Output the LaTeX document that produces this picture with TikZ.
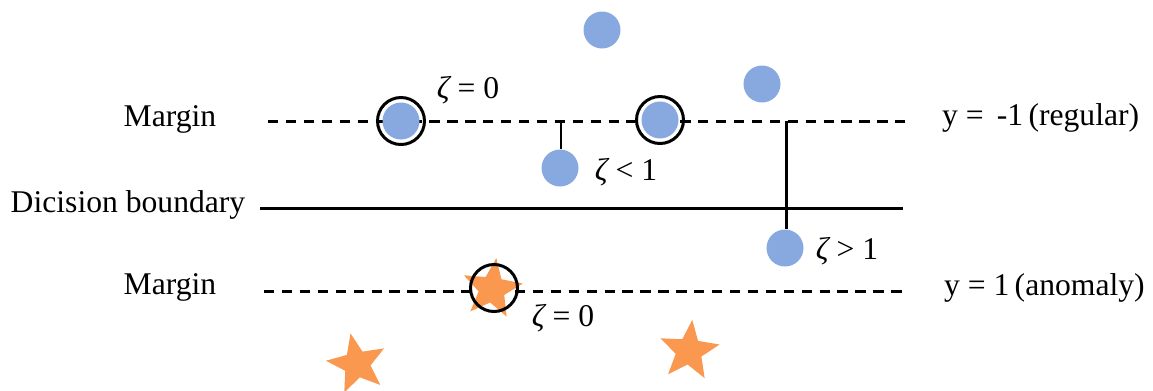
\documentclass[tikz,border=0pt]{standalone}
\usepackage{fontspec}
\setmainfont{Liberation Serif}
\usetikzlibrary{shapes.geometric}
\definecolor{regblue}{RGB}{135,169,224}
\definecolor{anostar}{RGB}{250,152,80}
\newcommand{\zt}{{\itshape ζ}}
\begin{document}
\begin{tikzpicture}[x=0.02cm, y=-0.02cm,
    every node/.style={font=\fontsize{18}{20}\selectfont},
    regular/.style={circle, fill=regblue, inner sep=0pt, minimum size=0.74cm},
    anomaly/.style={star, star points=5, star point ratio=2.3, fill=anostar, inner sep=0pt, minimum size=1.25cm},
    support/.style={circle, draw=black, line width=1.7pt, inner sep=0pt, minimum size=0.94cm},
    marginline/.style={line width=1.7pt, dash pattern=on 5.9pt off 4.3pt},
    slack/.style={line width=1.7pt}]
    \useasboundingbox (0,0) rectangle (1153,390);

    % Linky
    \coordinate (mt1) at (268,121);
    \coordinate (mt2) at (905,121);
    \coordinate (db1) at (260,208);
    \coordinate (db2) at (903,208);
    \coordinate (mb1) at (264,291);
    \coordinate (mb2) at (903,291);
    \draw[marginline] (mt1) -- (mt2);
    \draw[slack] (db1) -- (db2);
    \draw[marginline] (mb1) -- (mb2);

    % Popisky vlevo a vpravo
    \node (lmt) at (170,119) {Margin};
    \node (ldb) at (128,205) {Dicision boundary};
    \node (lmb) at (170,287) {Margin};
    \node[anchor=west] (lreg) at (936,118) {y =\, -1\,(regular)};
    \node[anchor=west] (lano) at (938,288) {y = 1\,(anomaly)};

    % Regulérní body
    \node[regular] (r1) at (602,30) {};
    \node[regular] (r2) at (762,84) {};
    \node[regular] (r3) at (401,121) {};
    \node[regular] (r4) at (660,120) {};
    \node[regular] (r5) at (560,168) {};
    \node[regular] (r6) at (785,248) {};

    % Anomálie
    \node[anomaly, rotate=-8] (a1) at (492,289) {};
    \node[anomaly, rotate=12] (a2) at (357,364) {};
    \node[anomaly, rotate=-6] (a3) at (689,351) {};

    % Podpůrné vektory
    \node[support] (s1) at (r3) {};
    \node[support] (s2) at (r4) {};
    \node[support] (s3) at (494,288) {};

    % Odchylky od okraje
    \coordinate (k1) at (561,121);
    \coordinate (k2) at (786,121);
    \draw[slack] (k1) -- (r5.north -| k1);
    \draw[slack] (k2) -- (r6.north -| k2);

    % Hodnoty zeta
    \node (z1) at (468,90) {\zt{} = 0};
    \node (z2) at (626,172) {\zt{} < 1};
    \node (z3) at (847,251) {\zt{} > 1};
    \node (z4) at (563,318) {\zt{} = 0};
\end{tikzpicture}
\end{document}
